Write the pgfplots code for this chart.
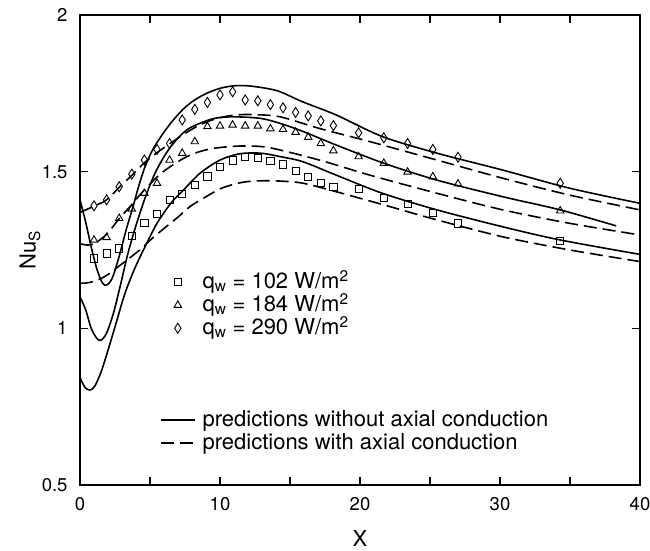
\documentclass[border=0pt]{standalone}
\usepackage{fontspec}
\setmainfont{TeX Gyre Heros}
\usepackage{pgfplots}
\pgfplotsset{compat=1.18}
\begin{document}
\begin{tikzpicture}
\begin{axis}[
  scale only axis, width=560pt, height=470pt,
  xmin=0, xmax=40, ymin=0.5, ymax=2,
  xtick={0,5,...,40}, xticklabels={0,,10,,20,,30,,40},
  ytick={0.5,1,1.5,2}, yticklabels={0.5,1,1.5,2},
  tick align=inside, major tick length=8pt,
  tick style={line width=1.1pt, black},
  axis line style={line width=1.3pt},
  /pgf/number format/assume math mode=true,
  tick label style={font=\fontsize{18.5}{20}\selectfont},
  x tick label style={anchor=center, yshift=-19pt},
  y tick label style={anchor=east, xshift=-9pt},
  xlabel={X}, ylabel={Nu\textsubscript{S}},
  label style={font=\fontsize{22}{24}\selectfont},
  xlabel style={at={([yshift=-53pt]axis description cs:0.5,0)}, anchor=center},
  ylabel style={at={([xshift=-50pt]axis description cs:0,0.5)}, anchor=center},
  legend style={at={(axis cs:5.714,1.184)}, anchor=north west, draw=none, fill=none,
    inner sep=0pt, outer sep=0pt, font=\fontsize{22}{24}\selectfont, row sep=0pt,
    /tikz/every odd column/.append style={column sep=7pt},
    nodes={inner sep=0pt, text height=18pt, text depth=5pt}},
  legend cell align=left,
  legend image code/.code={\draw[mark repeat=2,mark phase=2,#1] plot coordinates {(0pt,0pt) (17pt,0pt) (34pt,0pt)};},
  every axis plot/.append style={line width=1.6pt, black},
]
% solid curves (without axial conduction)
\addplot[smooth, tension=0.5, forget plot] coordinates {
(0,1.41)(0.4,1.34)(0.8,1.26)(1.2,1.19)(1.6,1.145)(1.9,1.138)(2.3,1.16)(2.8,1.23)(3.3,1.315)(3.8,1.39)(4.2,1.455)(4.64,1.515)(5.1,1.562)(5.6,1.600)(6.43,1.652)(7.38,1.700)(8.2,1.729)(9.05,1.75)(10,1.766)(11,1.774)(12,1.774)(13.3,1.766)(14.3,1.755)(15.9,1.723)(18.3,1.681)(21.6,1.612)(25.5,1.559)(30.2,1.505)(35,1.447)(40,1.399)};
\addplot[smooth, tension=0.5, forget plot] coordinates {
(0,1.10)(0.4,1.06)(0.8,1.00)(1.2,0.968)(1.5,0.962)(1.9,0.985)(2.4,1.05)(2.9,1.14)(3.4,1.235)(3.93,1.318)(4.6,1.41)(5.36,1.495)(6.2,1.562)(7.0,1.607)(7.86,1.640)(9.5,1.669)(10.95,1.675)(12.9,1.67)(14.3,1.654)(15.95,1.628)(18.3,1.585)(21.7,1.527)(25.5,1.473)(30.2,1.420)(34.3,1.378)(38.3,1.327)};
\addplot[smooth, tension=0.5, forget plot] coordinates {
(0,0.843)(0.35,0.812)(0.7,0.803)(1.05,0.815)(1.5,0.86)(2.0,0.93)(2.6,1.02)(3.2,1.11)(3.9,1.19)(4.64,1.26)(5.5,1.335)(6.5,1.40)(7.3,1.437)(8.57,1.495)(10,1.537)(11.4,1.557)(12.9,1.559)(14.3,1.548)(15.9,1.532)(18.3,1.489)(21.6,1.431)(25.5,1.378)(30.2,1.324)(34.3,1.282)(40,1.236)};
% dashed curves (with axial conduction)
\addplot[smooth, tension=0.5, dash pattern=on 13pt off 6pt, forget plot] coordinates {
(0,1.37)(1.0,1.39)(1.9,1.41)(2.8,1.45)(3.74,1.49)(4.64,1.53)(5.55,1.562)(6.43,1.59)(7.5,1.622)(8.5,1.648)(9.5,1.666)(10.5,1.677)(11.5,1.682)(12.5,1.682)(14.3,1.675)(17.1,1.638)(20.7,1.596)(25.5,1.537)(30.2,1.479)(35,1.425)(40,1.378)};
\addplot[smooth, tension=0.5, dash pattern=on 13pt off 6pt, forget plot] coordinates {
(0,1.27)(0.5,1.266)(1.0,1.27)(1.9,1.30)(2.8,1.35)(3.7,1.395)(4.5,1.437)(5.8,1.495)(7.3,1.54)(8.4,1.562)(9.5,1.574)(10.7,1.58)(11.9,1.582)(13.6,1.576)(17.1,1.537)(20.7,1.489)(25.5,1.431)(30.2,1.378)(35,1.335)(40,1.298)};
\addplot[smooth, tension=0.5, dash pattern=on 13pt off 6pt, forget plot] coordinates {
(0,1.144)(0.5,1.145)(1.0,1.15)(1.55,1.16)(2.2,1.178)(2.74,1.197)(3.5,1.223)(4.4,1.255)(5.1,1.285)(5.9,1.315)(7.0,1.355)(7.9,1.39)(9.0,1.42)(10,1.445)(11.0,1.46)(11.9,1.468)(13.0,1.471)(14.3,1.470)(15.95,1.463)(18.3,1.436)(21.7,1.394)(25.5,1.346)(30.2,1.292)(35,1.25)(40,1.213)};
% experimental data
\addplot[only marks, mark=square, mark size=3.6pt, mark options={solid, line width=0.9pt}] coordinates {
(1.0,1.223)(1.9,1.239)(2.8,1.255)(3.7,1.295)(4.6,1.337)(5.5,1.365)(6.4,1.409)(7.3,1.429)(8.2,1.457)(9.1,1.485)(10.0,1.516)(10.9,1.536)(11.8,1.547)(12.7,1.545)(13.6,1.535)(14.5,1.523)(15.4,1.503)(16.3,1.483)(17.2,1.463)(18.1,1.452)(19.9,1.445)(21.7,1.417)(23.4,1.398)(25.2,1.368)(27.0,1.335)(34.3,1.279)};
\addlegendentry{q\textsubscript{w} = 102 W/m\textsuperscript{2}}
\addplot[only marks, mark=triangle, mark size=4.3pt, mark options={solid, line width=0.9pt}] coordinates {
(1.0,1.282)(1.9,1.290)(2.8,1.351)(3.7,1.381)(4.6,1.431)(5.5,1.463)(6.4,1.537)(7.3,1.559)(8.2,1.596)(9.1,1.644)(10.0,1.646)(10.9,1.649)(11.8,1.646)(12.7,1.646)(13.6,1.637)(14.5,1.635)(15.4,1.626)(16.3,1.610)(17.2,1.590)(18.1,1.567)(19.9,1.548)(21.7,1.527)(23.4,1.499)(25.2,1.484)(27.0,1.461)(34.3,1.375)};
\addlegendentry{q\textsubscript{w} = 184 W/m\textsuperscript{2}}
\addplot[only marks, mark=diamond, mark size=5pt, mark options={solid, line width=0.9pt, xscale=0.85}] coordinates {
(1.0,1.391)(1.9,1.410)(2.8,1.452)(3.7,1.492)(4.6,1.537)(5.5,1.571)(6.4,1.590)(7.3,1.665)(8.2,1.699)(9.1,1.721)(10.0,1.745)(10.9,1.755)(11.8,1.729)(12.7,1.726)(13.6,1.714)(14.5,1.704)(15.4,1.689)(16.3,1.678)(17.2,1.662)(18.1,1.647)(19.9,1.624)(21.7,1.608)(23.4,1.590)(25.2,1.571)(27.0,1.546)(34.3,1.463)};
\addlegendentry{q\textsubscript{w} = 290 W/m\textsuperscript{2}}
\addlegendimage{empty legend}\addlegendentry{}
\addlegendimage{empty legend}\addlegendentry{}
\addlegendimage{empty legend}\addlegendentry{}
\addlegendimage{line width=1.6pt, black}
\addlegendentry{predictions without axial conduction}
\addlegendimage{line width=1.6pt, black, dash pattern=on 13pt off 6pt}
\addlegendentry{predictions with axial conduction}
\end{axis}
\pgfresetboundingbox
\path[use as bounding box] (-80pt,-65pt) rectangle (570pt,485pt);
\end{tikzpicture}
\end{document}
